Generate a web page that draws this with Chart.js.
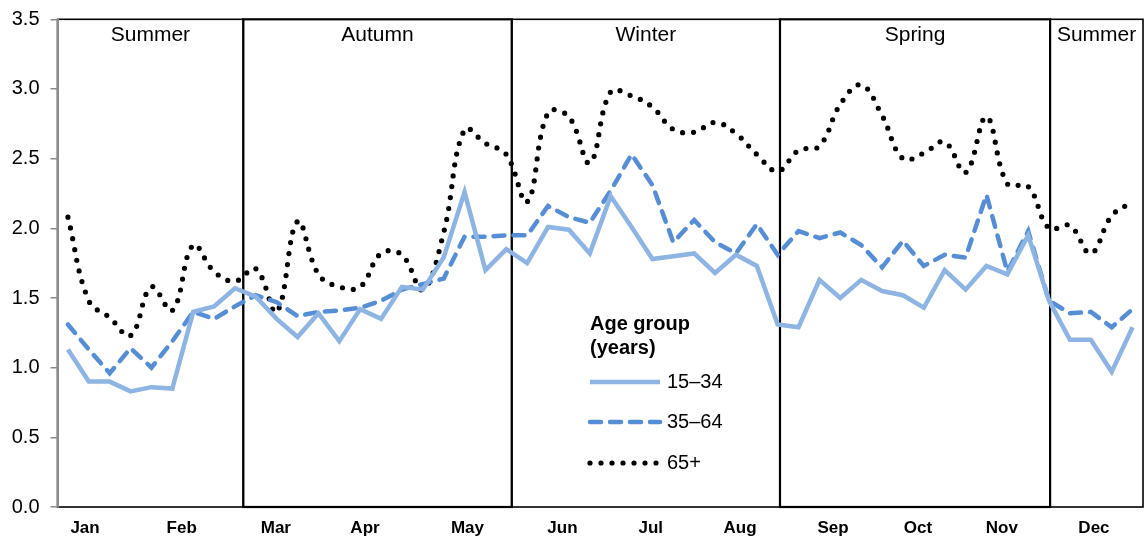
<!DOCTYPE html>
<html>
<head>
<meta charset="utf-8">
<script src="https://cdn.jsdelivr.net/npm/chart.js@4/dist/chart.umd.min.js"></script>
<style>
  html, body { margin: 0; padding: 0; background: #fff; }
  .wrap { position: relative; width: 1145px; height: 540px; }
</style>
</head>
<body>
<div class="wrap"><canvas id="chart"></canvas></div>
<script>
// weekly rates by age group, week 0..51
const ages15_34 = [1.13, 0.90, 0.90, 0.83, 0.86, 0.85, 1.40, 1.44, 1.57, 1.51, 1.35, 1.22, 1.39, 1.19, 1.42, 1.35, 1.58, 1.56,
  1.79, 2.26, 1.70, 1.85, 1.75, 2.01, 1.99, 1.82, 2.23, 2.01, 1.78, 1.80, 1.82, 1.68, 1.81, 1.73, 1.31, 1.29,
  1.63, 1.50, 1.63, 1.55, 1.52, 1.43, 1.70, 1.56, 1.73, 1.67, 1.95, 1.48, 1.20, 1.20, 0.97, 1.29];
const ages35_64 = [1.31, 1.13, 0.96, 1.14, 1.00, 1.19, 1.40, 1.35, 1.44, 1.52, 1.47, 1.37, 1.40, 1.41, 1.43, 1.48, 1.56, 1.60,
  1.64, 1.94, 1.94, 1.95, 1.95, 2.16, 2.08, 2.04, 2.27, 2.53, 2.31, 1.90, 2.06, 1.90, 1.82, 2.03, 1.81, 1.98,
  1.93, 1.97, 1.88, 1.72, 1.91, 1.73, 1.81, 1.79, 2.24, 1.69, 1.98, 1.48, 1.39, 1.40, 1.29, 1.42];
const ages65plus = [2.08, 1.48, 1.36, 1.23, 1.58, 1.41, 1.88, 1.69, 1.62, 1.71, 1.40, 2.05, 1.67, 1.58, 1.58, 1.82, 1.81, 1.56,
  1.97, 2.71, 2.61, 2.53, 2.19, 2.83, 2.80, 2.47, 2.98, 2.95, 2.87, 2.71, 2.69, 2.76, 2.68, 2.53, 2.41, 2.56,
  2.59, 2.89, 3.03, 2.81, 2.50, 2.54, 2.62, 2.40, 2.80, 2.32, 2.30, 2.00, 2.02, 1.82, 2.09, 2.19];

const months = ['Jan', 'Feb', 'Mar', 'Apr', 'May', 'Jun', 'Jul', 'Aug', 'Sep', 'Oct', 'Nov', 'Dec'];
const monthWeek = [0.82, 5.45, 9.96, 14.23, 19.14, 23.69, 27.92, 32.2, 36.65, 40.72, 44.74, 49.15];

const seasonNames = ['Summer', 'Autumn', 'Winter', 'Spring', 'Summer'];
const seasonEdges = [-0.5, 8.4, 21.26, 34.11, 47.05, 51.5];

const yTicks = [0, 0.5, 1, 1.5, 2, 2.5, 3, 3.5];

const FONT = 'Arial, "Liberation Sans", sans-serif';
Chart.defaults.font.family = FONT;
Chart.defaults.color = '#000';

const toPoints = arr => arr.map((v, i) => ({ x: i, y: v }));

// season boxes + titles, behind everything
const seasonsPlugin = {
  id: 'seasons',
  beforeDraw(chart) {
    const { ctx, chartArea, scales } = chart;
    ctx.save();
    ctx.strokeStyle = '#000';
    ctx.font = '21px ' + FONT;
    ctx.fillStyle = '#000';
    ctx.textAlign = 'center';
    ctx.textBaseline = 'alphabetic';
    for (let s = 0; s < seasonNames.length; s++) {
      const x1 = scales.x.getPixelForValue(seasonEdges[s]);
      const x2 = scales.x.getPixelForValue(seasonEdges[s + 1]);
      ctx.lineWidth = (s % 2 === 1) ? 2.2 : 1.6;
      ctx.strokeRect(x1, chartArea.top, x2 - x1, chartArea.bottom - chartArea.top);
      ctx.fillText(seasonNames[s], (x1 + x2) / 2, chartArea.top + 22);
    }
    ctx.restore();
  }
};

// legend inside the plot
const legendPlugin = {
  id: 'ageLegend',
  afterDraw(chart) {
    const { ctx } = chart;
    const x0 = 590, x1 = 660;
    ctx.save();
    ctx.fillStyle = '#000';
    ctx.textAlign = 'left';
    ctx.textBaseline = 'alphabetic';
    ctx.font = 'bold 20px ' + FONT;
    ctx.fillText('Age group', x0, 330);
    ctx.fillText('(years)', x0, 354);
    const rows = [382, 422, 463];
    chart.data.datasets.forEach((ds, i) => {
      const y = rows[i];
      ctx.beginPath();
      ctx.strokeStyle = ds.borderColor;
      ctx.lineWidth = ds.borderWidth;
      ctx.lineCap = ds.borderCapStyle || 'butt';
      ctx.setLineDash(ds.borderDash || []);
      ctx.moveTo(x0, y);
      ctx.lineTo(x1, y);
      ctx.stroke();
      ctx.setLineDash([]);
      ctx.font = '20px ' + FONT;
      ctx.textBaseline = 'middle';
      ctx.fillText(ds.label, x1 + 7, y);
      ctx.textBaseline = 'alphabetic';
    });
    ctx.restore();
  }
};

new Chart(document.getElementById('chart'), {
  type: 'line',
  data: {
    datasets: [{
      label: '15–34',
      data: toPoints(ages15_34),
      borderColor: '#8db4e2',
      borderWidth: 4.5,
      borderJoinStyle: 'miter',
      tension: 0,
      pointRadius: 0,
    }, {
      label: '35–64',
      data: toPoints(ages35_64),
      borderColor: '#558ed5',
      borderWidth: 4.5,
      borderDash: [11, 9],
      borderCapStyle: 'round',
      tension: 0,
      pointRadius: 0,
    }, {
      label: '65+',
      data: toPoints(ages65plus),
      borderColor: '#000',
      borderWidth: 5.2,
      borderDash: [0, 11],
      borderCapStyle: 'round',
      tension: 0.4,
      pointRadius: 0,
    }]
  },
  options: {
    responsive: true,
    maintainAspectRatio: false,
    animation: false,
    layout: { padding: { top: 19.3, left: 7.5, right: 2, bottom: 0 } },
    plugins: {
      legend: { display: false },
      tooltip: { enabled: false }
    },
    scales: {
      x: {
        type: 'linear',
        min: -0.5,
        max: 51.5,
        grid: { display: false, drawTicks: false },
        border: { display: false },
        afterBuildTicks: s => { s.ticks = monthWeek.map(v => ({ value: v })); },
        afterFit: s => { s.height = 33; },
        ticks: {
          autoSkip: false,
          maxRotation: 0,
          padding: 11,
          font: { size: 17, weight: 'bold' },
          callback: (v, i) => months[i]
        }
      },
      y: {
        min: 0,
        max: 3.5,
        afterBuildTicks: s => { s.ticks = yTicks.map(v => ({ value: v })); },
        afterFit: s => { s.width = 50; s.paddingTop = 0; s.paddingBottom = 0; },
        grid: {
          drawOnChartArea: false,
          drawTicks: true,
          tickLength: 7,
          color: '#8c8c8c',
          lineWidth: 1.5
        },
        border: { display: true, color: '#8c8c8c', width: 2 },
        ticks: {
          padding: 11,
          font: { size: 20 },
          callback: v => v.toFixed(1)
        }
      }
    }
  },
  plugins: [seasonsPlugin, legendPlugin]
});
</script>
</body>
</html>
